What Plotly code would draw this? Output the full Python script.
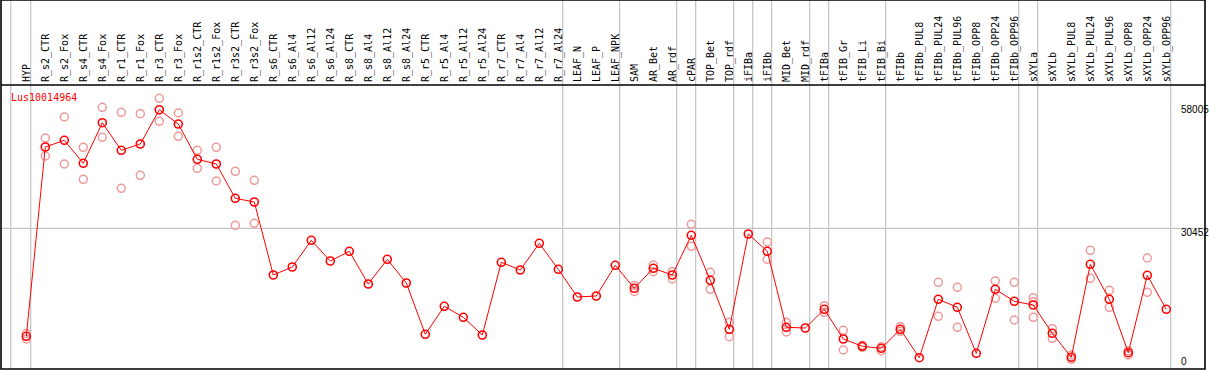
import plotly.graph_objects as go

gene = "Lus10014964"

categories = [
    "HYP", "R_s2_CTR", "R_s2_Fox", "R_s4_CTR", "R_s4_Fox", "R_r1_CTR", "R_r1_Fox",
    "R_r3_CTR", "R_r3_Fox", "R_r1s2_CTR", "R_r1s2_Fox", "R_r3s2_CTR", "R_r3s2_Fox",
    "R_s6_CTR", "R_s6_Al4", "R_s6_Al12", "R_s6_Al24", "R_s8_CTR", "R_s8_Al4",
    "R_s8_Al12", "R_s8_Al24", "R_r5_CTR", "R_r5_Al4", "R_r5_Al12", "R_r5_Al24",
    "R_r7_CTR", "R_r7_Al4", "R_r7_Al12", "R_r7_Al24", "LEAF_N", "LEAF_P", "LEAF_NPK",
    "SAM", "AR_Bet", "AR_rdf", "cPAR", "TOP_Bet", "TOP_rdf", "iFIBa", "iFIBb",
    "MID_Bet", "MID_rdf", "tFIBa", "tFIB_Gr", "tFIB_Li", "tFIB_Bi", "tFIBb",
    "tFIBb_PUL8", "tFIBb_PUL24", "tFIBb_PUL96", "tFIBb_OPP8", "tFIBb_OPP24",
    "tFIBb_OPP96", "sXYLa", "sXYLb", "sXYLb_PUL8", "sXYLb_PUL24", "sXYLb_PUL96",
    "sXYLb_OPP8", "sXYLb_OPP24", "sXYLb_OPP96",
]

mean_values = [
    5367, 49347, 50904, 45560, 54992, 48580, 50044, 58005, 54690, 46489, 45397,
    37428, 36569, 19609, 21467, 27671, 22861, 25115, 17518, 23256, 17750, 5832,
    12337, 9781, 5669, 22559, 20770, 26974, 20933, 14497, 14730, 21862, 16519,
    21165, 19609, 28832, 18377, 6993, 29134, 25115, 7458, 7295, 11640, 4740, 3044,
    2579, 6993, 395, 13963, 12104, 1417, 16286, 13498, 12639, 6064, 488, 22095,
    13963, 1557, 19539, 11640,
]

replicate_values = [
    [6017, 4740], [51438, 47256], [56317, 45397], [49277, 41843], [58570, 51601],
    [57409, 39752], [57083, 42772], [60661, 55318], [57246, 51833], [48580, 44398],
    [49277, 41448], [43701, 31156], [41610, 31620], [], [], [], [], [], [], [], [],
    [], [], [], [], [], [], [], [], [], [], [], [17169, 15775], [21932, 20375],
    [20375, 18679], [31388, 26277], [20236, 16286], [8619, 5274], [], [27275, 23256],
    [8619, 6366], [], [12476, 10943], [6761, 2184], [3276, 2811], [2951, 2021],
    [7597, 6529], [], [17913, 10013], [16751, 7458], [], [18215, 14195],
    [17913, 9154], [14335, 13405, 9781], [7133, 4902], [1022, 23], [25347, 18842],
    [16054, 12104], [2021, 1022], [23558, 15589], [],
]

scale_labels = [58005, 30452, 0]
group_ends = [0, 28, 31, 34, 35, 37, 38, 39, 41, 42, 45, 52, 53, 60]

xs = list(range(len(categories)))
rep_x = [i for i, reps in enumerate(replicate_values) for _ in reps]
rep_y = [v for reps in replicate_values for v in reps]

fig = go.Figure()
fig.add_trace(go.Scatter(
    x=rep_x, y=rep_y, mode="markers",
    marker=dict(symbol="circle-open", size=8, color="#ee9a9a", line=dict(width=1.5)),
    hoverinfo="skip", showlegend=False,
))
fig.add_trace(go.Scatter(
    x=xs, y=mean_values, mode="lines+markers",
    line=dict(color="#ff0000", width=1),
    marker=dict(symbol="circle-open", size=8, color="#ff0000", line=dict(width=1.6)),
    showlegend=False,
))

GRID = "#c4c4c4"
shapes = []
top_paper = 1 + 85 / 284
shapes.append(dict(type="line", xref="x", yref="paper", x0=-0.82, x1=-0.82,
                   y0=0, y1=top_paper, line=dict(color=GRID, width=1.2), layer="below"))
for k in group_ends:
    shapes.append(dict(type="line", xref="x", yref="paper", x0=k + 0.23, x1=k + 0.23,
                       y0=0, y1=top_paper, line=dict(color=GRID, width=1.2), layer="below"))
shapes.append(dict(type="line", xref="paper", yref="y", x0=0, x1=1,
                   y0=scale_labels[1], y1=scale_labels[1],
                   line=dict(color=GRID, width=1.2), layer="below"))
shapes.append(dict(type="rect", xref="paper", yref="paper", x0=0, x1=1, y0=0, y1=top_paper,
                   line=dict(color="black", width=1.6)))
shapes.append(dict(type="line", xref="paper", yref="paper", x0=0, x1=1, y0=1, y1=1,
                   line=dict(color="black", width=1.6)))

annotations = [dict(text=gene, xref="paper", yref="paper", x=0.0069, y=0.956,
                    xanchor="left", yanchor="middle", showarrow=False,
                    font=dict(family="DejaVu Sans Mono", size=10, color="#ff0000"))]
shifts = [0, -4, -2]
for v, s in zip(scale_labels, shifts):
    annotations.append(dict(text=str(v), xref="paper", yref="y", x=0.978, y=v,
                            xanchor="left", yanchor="middle", yshift=s, showarrow=False,
                            font=dict(family="Liberation Sans", size=10, color="black")))

fig.update_layout(
    width=1209, height=370,
    margin=dict(l=1, r=4, t=85, b=1, autoexpand=False),
    paper_bgcolor="white", plot_bgcolor="white",
    shapes=shapes, annotations=annotations,
    xaxis=dict(range=[-1.3316, 62.037], side="top", tickmode="array", tickvals=xs,
               ticktext=categories, tickangle=-90, ticks="", showgrid=False,
               zeroline=False, showline=False, ticklabelstandoff=2, automargin=False,
               tickfont=dict(family="DejaVu Sans Mono", size=10, color="black")),
    yaxis=dict(range=[-2230, 63755], showgrid=False, zeroline=False,
               showticklabels=False, showline=False, automargin=False),
)

fig.write_html("out.html", config={"displayModeBar": False},
               post_script="document.body.style.margin='0';document.body.style.overflow='hidden';")
